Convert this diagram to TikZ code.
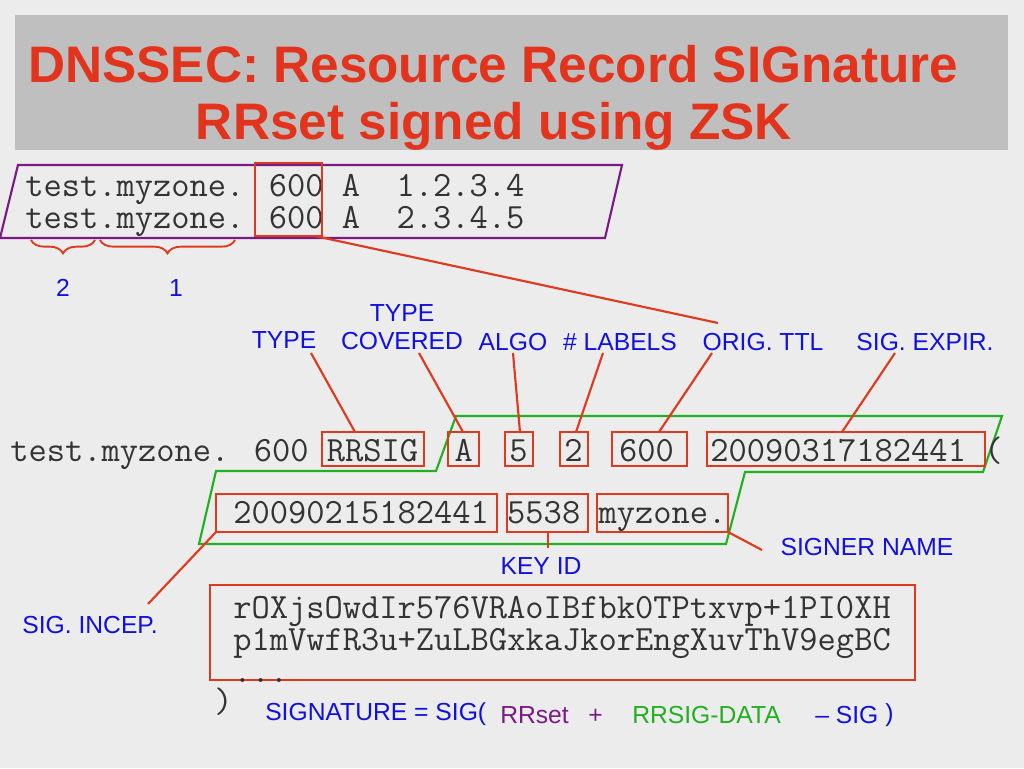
\documentclass[tikz,border=0pt]{standalone}
\usepackage{fontspec}
\setmainfont{Liberation Sans}
\usetikzlibrary{decorations.pathreplacing}
\definecolor{tred}{HTML}{E2341D}
\definecolor{bred}{HTML}{E03A1E}
\definecolor{lblue}{HTML}{1010E0}
\definecolor{pur}{HTML}{7A1A86}
\definecolor{grn}{HTML}{20B020}
\tikzset{
 mono/.style={font=\ttfamily\fontsize{26.6}{30}\selectfont, inner sep=0pt, anchor=base west, text=black!80},
 lab/.style={font=\fontsize{18.5}{21}\selectfont, text=lblue, inner sep=0pt, anchor=base},
 rbox/.style={draw=bred, line width=1.6pt},
 rl/.style={draw=bred, line width=1.6pt},
}
\begin{document}
\begin{tikzpicture}[x=0.75pt,y=-0.75pt]
\fill[gray!15] (0,0) rectangle (1024,768);
\useasboundingbox (0,0) rectangle (1024,768);
\fill[black!25] (15,15) rectangle (1008,150);
\node[font=\bfseries\fontsize{38.5}{44}\selectfont, text=tred, anchor=base west, inner sep=0pt] (t1) at (28,82) {DNSSEC: Resource Record SIGnature};
\node[font=\bfseries\fontsize{38.5}{44}\selectfont, text=tred, anchor=base, inner sep=0pt] (t2) at (494,139) {RRset signed using ZSK};
% RRset
\draw[pur, line width=1.6pt] (18,165) -- (622,165) -- (605,238) -- (0,238) -- cycle;
\node[mono] (r1) at (25,196) {test.myzone. 600 A\ \ 1.2.3.4};
\node[mono] (r2) at (25,228) {test.myzone. 600 A\ \ 2.3.4.5};
\draw[rbox] (255,163) rectangle (322,236);
\coordinate (ttlb) at (315,236);
\draw[bred, line width=1.4pt, decorate, decoration={brace, mirror, amplitude=10pt}] (31,240) -- (95,240);
\draw[bred, line width=1.4pt, decorate, decoration={brace, mirror, amplitude=10pt}] (100,240) -- (235,240);
\node[lab] (n2) at (63,296) {2};
\node[lab] (n1) at (176,296) {1};
% labels
\node[lab] (lt) at (284,348) {TYPE};
\node[lab, align=center] (ltc) at (402,349) {TYPE\\COVERED};
\node[lab] (lal) at (513,350) {ALGO};
\node[lab] (llb) at (620,350) {\# LABELS};
\node[lab] (lttl) at (763,350) {ORIG. TTL};
\node[lab] (lse) at (925,350) {SIG. EXPIR.};
\draw[rl] (ttlb) -- (718,323);
% RRSIG line
\draw[grn, line width=1.6pt] (456,416) -- (1002,416) -- (983,472) -- (745,472) -- (726,544) -- (199,544) -- (216,471) -- (436,471) -- cycle;
\node[mono] (s1) at (10,461) {test.myzone. 600 RRSIG\ \ A\ \ 5\ \ 2\ \ 600\ \ 20090317182441 (};
\node[mono] (s2) at (233,523) {20090215182441 5538 myzone.};
\draw[rbox] (322,432) rectangle (424,466);
\draw[rbox] (448,432) rectangle (479,466);
\draw[rbox] (505,432) rectangle (533,466);
\draw[rbox] (560,432) rectangle (588,466);
\draw[rbox] (612,432) rectangle (687,466);
\draw[rbox] (707,432) rectangle (985,466);
\draw[rbox] (216,494) rectangle (497,532);
\draw[rbox] (507,494) rectangle (588,532);
\draw[rbox] (597,494) rectangle (728,532);
\draw[rl] (311,353) -- (355,432);
\draw[rl] (419,353) -- (463,432);
\draw[rl] (513,353) -- (520,432);
\draw[rl] (603,353) -- (576,432);
\draw[rl] (712,353) -- (659,432);
\draw[rl] (895,353) -- (842,432);
\node[lab] (kid) at (541,574) {KEY ID};
\draw[rl] (548,532) -- (548,548);
\node[lab] (sn) at (867,555) {SIGNER NAME};
\draw[rl] (728,532) -- (762,550);
\node[lab] (si) at (90,633) {SIG. INCEP.};
\draw[rl] (216,532) -- (148,604);
% signature
\draw[rbox] (210,585) rectangle (915,680);
\node[mono] (g1) at (233,618) {rOXjsOwdIr576VRAoIBfbk0TPtxvp+1PI0XH};
\node[mono] (g2) at (233,650) {p1mVwfR3u+ZuLBGxkaJkorEngXuvThV9egBC};
\node[mono] (g3) at (233,682) {...};
\node[mono] (cp) at (214,712) {)};
\node[lab, anchor=base west] (f1) at (265,720) {SIGNATURE = SIG(};
\node[lab, anchor=base west, text=pur] (f2) at (500,723) {RRset};
\node[lab, anchor=base west, text=pur] (f3) at (588,723) {+};
\node[lab, anchor=base west, text=grn] (f4) at (632,723) {RRSIG-DATA};
\node[lab, anchor=base west] (f5) at (815,723) {-- SIG};
\node[lab, anchor=base west] (f6) at (885,721) {)};
\end{tikzpicture}
\end{document}
